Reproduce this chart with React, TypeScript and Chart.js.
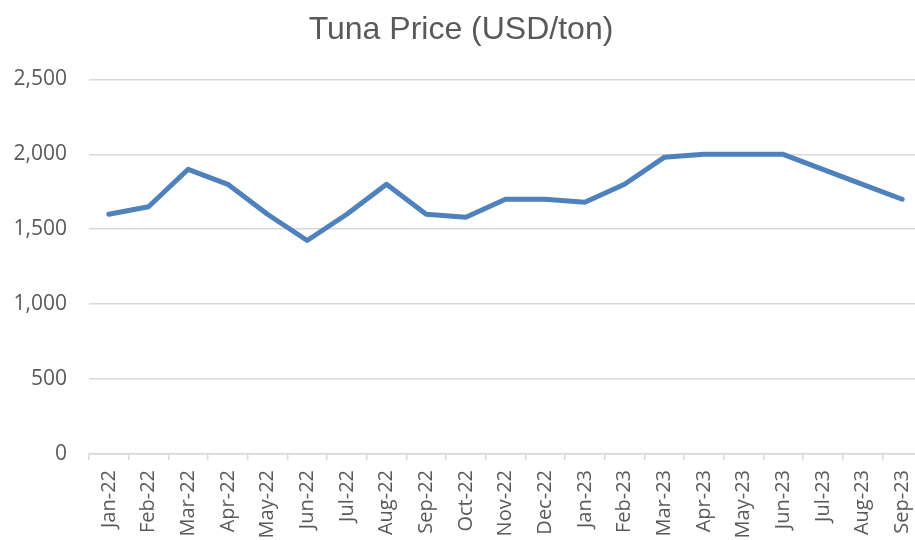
import React, { useEffect, useRef } from "react";
import { Chart, registerables } from "chart.js";

Chart.register(...registerables);

const TITLE = "Tuna Price (USD/ton)";
const MONTHS = [
  "Jan-22", "Feb-22", "Mar-22", "Apr-22", "May-22", "Jun-22", "Jul-22",
  "Aug-22", "Sep-22", "Oct-22", "Nov-22", "Dec-22", "Jan-23", "Feb-23",
  "Mar-23", "Apr-23", "May-23", "Jun-23", "Jul-23", "Aug-23", "Sep-23",
];
const PRICES = [
  1600, 1650, 1900, 1800, 1600, 1425, 1600,
  1800, 1600, 1580, 1700, 1700, 1680, 1800,
  1980, 2000, 2000, 2000, 1900, 1800, 1700,
];
const Y_MIN = 0;
const Y_MAX = 2500;
const Y_STEP = 500;

export default function App() {
  const ref = useRef<HTMLCanvasElement | null>(null);

  useEffect(() => {
    document.body.style.margin = "0";
    const canvas = ref.current;
    if (!canvas) return;
    const chart = new Chart(canvas, {
      type: "line",
      data: {
        labels: MONTHS,
        datasets: [
          {
            data: PRICES,
            borderColor: "#4f81bd",
            backgroundColor: "#4f81bd",
            borderWidth: 5,
            pointRadius: 0,
            tension: 0,
            borderCapStyle: "round",
            borderJoinStyle: "round",
          },
        ],
      },
      options: {
        animation: false,
        responsive: false,
        maintainAspectRatio: false,
        layout: { padding: { left: 0, right: 0, top: 0, bottom: 0 } },
        plugins: {
          legend: { display: false },
          tooltip: { enabled: false },
          title: {
            display: true,
            text: TITLE,
            color: "#595959",
            font: { family: "'Liberation Sans', Arial, sans-serif", size: 32, weight: "normal" },
            padding: { top: 11, bottom: 30 },
          },
        },
        scales: {
          x: {
            offset: true,
            afterFit: (scale: any) => {
              scale.height = 86;
              scale.paddingLeft = 0;
              scale.paddingRight = 0;
            },
            grid: {
              display: true,
              offset: true,
              drawOnChartArea: false,
              drawTicks: true,
              tickLength: 6,
              color: "#d9d9d9",
              lineWidth: 1.5,
            },
            border: { display: true, color: "#d9d9d9", width: 1.5 },
            ticks: {
              color: "#595959",
              font: { family: "'Open Sans', sans-serif", size: 20 },
              maxRotation: 90,
              minRotation: 90,
              autoSkip: false,
              padding: 10,
            },
          },
          y: {
            min: Y_MIN,
            max: Y_MAX,
            afterFit: (scale: any) => {
              scale.width = 89;
            },
            grid: {
              color: "#d9d9d9",
              lineWidth: 1.5,
              drawTicks: false,
            },
            border: { display: false },
            ticks: {
              stepSize: Y_STEP,
              color: "#595959",
              padding: 22,
              font: { family: "'Open Sans', sans-serif", size: 21 },
              callback: (v: any) => Number(v).toLocaleString("en-US"),
            },
          },
        },
      },
    });
    return () => chart.destroy();
  }, []);

  return (
    <div style={{ position: "relative", width: 915, height: 540, overflow: "hidden" }}>
      <canvas ref={ref} width={922} height={540} style={{ display: "block", width: 922, height: 540 }} />
    </div>
  );
}
